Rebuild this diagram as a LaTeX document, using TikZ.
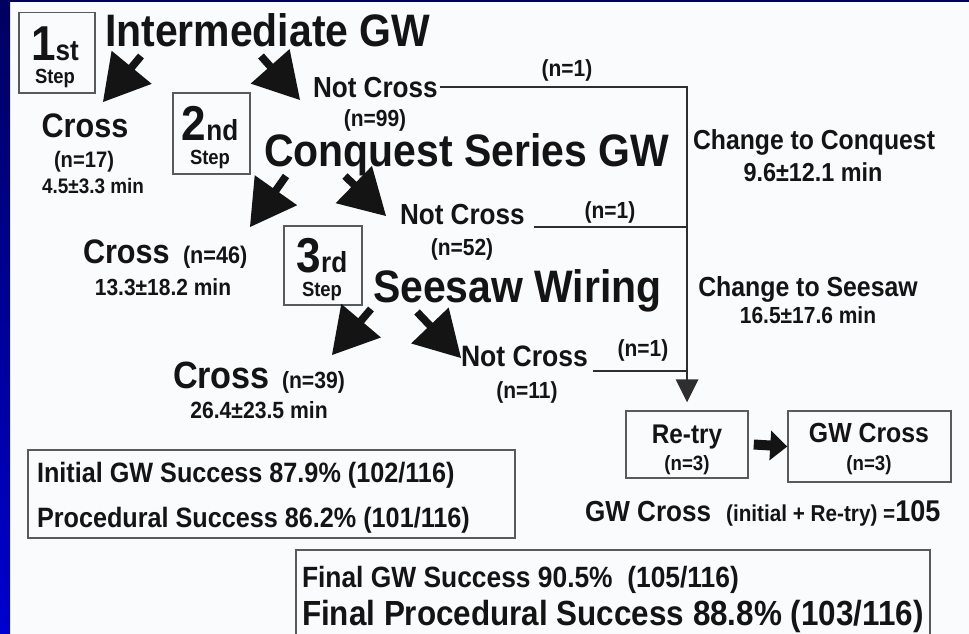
\documentclass[tikz,border=0pt]{standalone}
\usepackage{fontspec}
\setmainfont{Liberation Sans}[FakeStretch=0.9]
\usetikzlibrary{calc}
\definecolor{bg}{HTML}{FAFBFD}
\definecolor{navy}{HTML}{000060}
\definecolor{barblue}{HTML}{0000D0}
\definecolor{ink}{HTML}{141414}
\definecolor{rule}{HTML}{2E2E2E}
\definecolor{boxline}{HTML}{5A5A5A}
\newcommand\fsz[1]{\fontsize{#1}{#1}\selectfont}
% block arrow: #1 start, #2 tip, #3 head length, #4 half head width, #5 half stem width
\newcommand\blkarrow[5]{%
  \coordinate (hb) at ($(#2)!#3!(#1)$);
  \fill[ink] ($(#1)!#5!90:(#2)$) -- ($(hb)!#5!90:(#2)$) -- ($(hb)!#4!90:(#2)$) -- (#2)
     -- ($(hb)!#4!-90:(#2)$) -- ($(hb)!#5!-90:(#2)$) -- ($(#1)!#5!-90:(#2)$) -- cycle;}
\tikzset{
  lbl/.style={inner sep=0pt, outer sep=0pt, text=ink, font=\bfseries},
  stepbox/.style={draw=boxline, line width=1.5pt, inner sep=0pt, minimum width=76pt, minimum height=80pt, anchor=north west},
  plainbox/.style={draw=boxline, line width=1.5pt, inner sep=0pt},
  conn/.style={draw=rule, line width=1.8pt},
}
\begin{document}
\begin{tikzpicture}[x=1pt,y=-1pt]
\useasboundingbox (0,0) rectangle (969,634);
\fill[bg] (0,0) rectangle (969,634);
\shade[top color=navy, bottom color=barblue] (0,0) rectangle (10,634);
\fill[navy] (0,0) rectangle (969,2.5);

% step boxes
\node[stepbox] (s1) at (18,12) {};
\node[lbl, anchor=base] (s1a) at (55,60) {\fsz{49}1\fsz{29}st};
\node[lbl, anchor=base] (s1b) at (55,83) {\fsz{20.5}Step};
\node[stepbox, minimum width=77pt, minimum height=81pt] (s2) at (172,92) {};
\node[lbl, anchor=base] (s2a) at (210,140) {\fsz{49}2\fsz{29}nd};
\node[lbl, anchor=base] (s2b) at (210,164) {\fsz{20.5}Step};
\node[stepbox, minimum width=78pt, minimum height=79pt] (s3) at (283,225) {};
\node[lbl, anchor=base] (s3a) at (322,272) {\fsz{49}3\fsz{29}rd};
\node[lbl, anchor=base] (s3b) at (322,296) {\fsz{20.5}Step};

% step 1
\node[lbl, anchor=base west] (t1) at (105,47) {\fsz{45.5}Intermediate GW};
\node[lbl, anchor=base west] (nc1) at (313,97) {\fsz{29}Not Cross};
\node[lbl, anchor=base] (n99) at (375,126) {\fsz{23.3}(n=99)};
\node[lbl, anchor=base] (cr1) at (85,137) {\fsz{34}Cross};
\node[lbl, anchor=base] (n17) at (84,167) {\fsz{22.4}(n=17)};
\node[lbl, anchor=base] (m17) at (93,193) {\fsz{21}4.5±3.3 min};

% step 2
\node[lbl, anchor=base west] (t2) at (264,166) {\fsz{45.5}Conquest Series GW};
\node[lbl, anchor=base west] (nc2) at (400,224) {\fsz{29}Not Cross};
\node[lbl, anchor=base] (n52) at (462,255) {\fsz{23.3}(n=52)};
\node[lbl, anchor=base west] (cr2) at (83,263) {\fsz{34}Cross};
\node[lbl, anchor=base west] (n46) at (183,263) {\fsz{24}(n=46)};
\node[lbl, anchor=base] (m46) at (163,295) {\fsz{23.3}13.3±18.2 min};

% step 3
\node[lbl, anchor=base west] (t3) at (373,302) {\fsz{45.5}Seesaw Wiring};
\node[lbl, anchor=base west] (nc3) at (461,366) {\fsz{29.5}Not Cross};
\node[lbl, anchor=base] (n11) at (527,398) {\fsz{23.3}(n=11)};
\node[lbl, anchor=base west] (cr3) at (173,388) {\fsz{38}Cross};
\node[lbl, anchor=base west] (n39) at (282,388) {\fsz{23.5}(n=39)};
\node[lbl, anchor=base] (m39) at (259,418) {\fsz{23.5}26.4±23.5 min};

% change labels
\node[lbl, anchor=base] (ch1) at (814,149) {\fsz{27.5}Change to Conquest};
\node[lbl, anchor=base] (ch1m) at (813,181) {\fsz{26}9.6±12.1 min};
\node[lbl, anchor=base] (ch2) at (808,296) {\fsz{27.6}Change to Seesaw};
\node[lbl, anchor=base] (ch2m) at (808,323) {\fsz{23.3}16.5±17.6 min};

% n=1 labels
\node[lbl, anchor=base] (k1) at (567,77) {\fsz{23.3}(n=1)};
\node[lbl, anchor=base] (k2) at (610,218) {\fsz{23.3}(n=1)};
\node[lbl, anchor=base] (k3) at (643,356) {\fsz{23.3}(n=1)};

% retry boxes
\node[plainbox, minimum width=122pt, minimum height=67pt] (retry) at (687,444.5) {};
\node[lbl, anchor=base] (rt1) at (687,443) {\fsz{27}Re-try};
\node[lbl, anchor=base] (rt2) at (687,470) {\fsz{20.7}(n=3)};
\node[plainbox, minimum width=163pt, minimum height=71pt] (gwc) at (869.5,446.5) {};
\node[lbl, anchor=base] (gw1) at (869,442) {\fsz{27.6}GW Cross};
\node[lbl, anchor=base] (gw2) at (869,470) {\fsz{20.7}(n=3)};
\coordinate (ra) at ($(retry.east)+(5,0)$);
\blkarrow{ra}{gwc.west}{17pt}{15pt}{5pt}

\node[lbl, anchor=base west] (tot) at (585,521) {\fsz{29}GW Cross\hspace{15pt}\fsz{23}(initial + Re-try) =\fsz{30}105};

% connectors to retry
\coordinate (vtop) at (nc1.east -| retry.north);
\coordinate (vtip) at ($(retry.north)+(0,-8)$);
\draw[conn] ([xshift=2pt]nc1.east) -- (vtop) -- ($(vtip)+(0,-22)$);
\fill[rule] (vtip) -- ++(-11.5,-23) -- ++(23,0) -- cycle;
\draw[conn] ($(nc2.base east)+(9,3)$) coordinate (l2s) -- (l2s -| vtop);
\draw[conn] ($(nc3.base east)+(5,5)$) coordinate (l3s) -- (l3s -| vtop);

% fat arrows
\coordinate (a1s) at (141,56);  \coordinate (a1e) at (103,102);
\coordinate (a2s) at (261,56);  \coordinate (a2e) at (300,100);
\coordinate (a3s) at (286,176); \coordinate (a3e) at (250,227);
\coordinate (a4s) at (345,176); \coordinate (a4e) at (386,216);
\coordinate (a5s) at (371,309); \coordinate (a5e) at (332,355);
\coordinate (a6s) at (417,312); \coordinate (a6e) at (461,358);
\blkarrow{a1s}{a1e}{45pt}{26pt}{3.8pt}
\blkarrow{a2s}{a2e}{45pt}{26pt}{3.8pt}
\blkarrow{a3s}{a3e}{45pt}{26pt}{3.8pt}
\blkarrow{a4s}{a4e}{45pt}{26pt}{3.8pt}
\blkarrow{a5s}{a5e}{45pt}{26pt}{3.8pt}
\blkarrow{a6s}{a6e}{45pt}{26pt}{3.8pt}

% summary boxes
\node[plainbox, minimum width=487pt, minimum height=88pt] (ibox) at (271.5,494) {};
\node[lbl, anchor=base west] (i1) at (37,482) {\fsz{28}Initial GW Success 87.9\% (102/116)};
\node[lbl, anchor=base west] (i2) at (37,527) {\fsz{28}Procedural Success 86.2\% (101/116)};
\draw[boxline, line width=1.5pt] (296,634) -- (296,550) -- (930,550) -- (930,634);
\node[lbl, anchor=base west] (f1) at (302,587) {\fsz{29.3}Final GW Success 90.5\%\ \ (105/116)};
\node[lbl, anchor=base west] (f2) at (302,625) {\fsz{34.9}Final Procedural Success 88.8\% (103/116)};
\end{tikzpicture}
\end{document}
